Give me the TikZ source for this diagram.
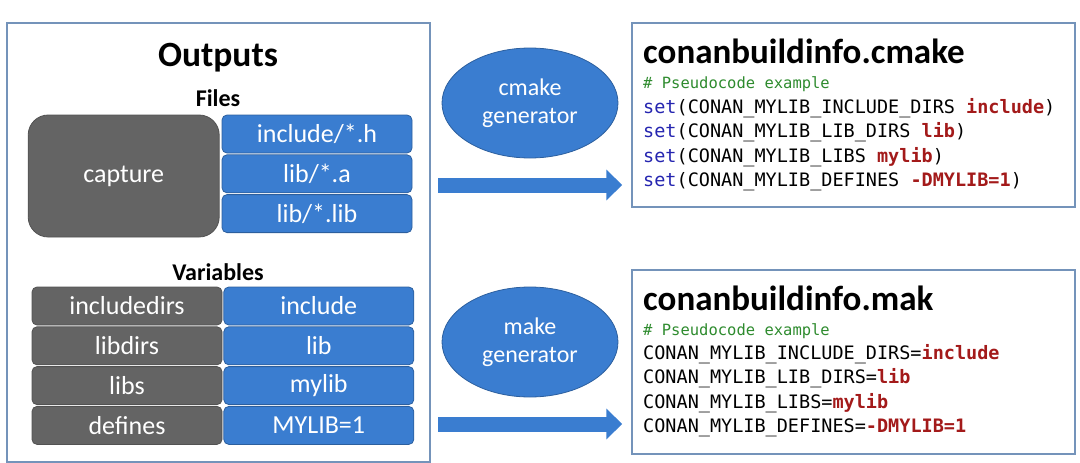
\documentclass[tikz,border=0pt]{standalone}
\usepackage{fontspec}
\setmainfont{Carlito}
\newfontfamily\codefont{DejaVu Sans Mono}
\usepackage{tikz}
\usetikzlibrary{positioning, arrows.meta, shapes.geometric, calc}
\definecolor{cellblue}{HTML}{3A7DD0}
\definecolor{celledge}{HTML}{2C5F9E}
\definecolor{cellgrey}{HTML}{646464}
\definecolor{greyedge}{HTML}{525252}
\definecolor{frameedge}{HTML}{7493BA}
\definecolor{kwblue}{HTML}{2525B0}
\definecolor{valred}{HTML}{A31A1A}
\definecolor{cmtgreen}{HTML}{2E8B2E}

\begin{document}
\begin{tikzpicture}[x=1pt,y=-1pt,node distance=1pt,
  cell/.style={draw,line width=0.8pt,rounded corners=5pt,minimum width=190pt,
               minimum height=38pt,inner sep=0pt,text=white,
               font=\fontsize{26}{28}\selectfont},
  filecell/.style={cell,fill=cellblue,draw=celledge},
  keycell/.style={cell,fill=cellgrey,draw=greyedge},
  gen/.style={ellipse,fill=cellblue,draw=celledge,line width=0.8pt,
              minimum width=176pt,minimum height=110pt,inner sep=0pt,
              text=white,align=center,font=\fontsize{24}{28}\selectfont},
  codebox/.style={draw=frameedge,line width=1.5pt,minimum width=443pt,
                  minimum height=184pt,inner sep=0pt},
  head/.style={inner sep=0pt,font=\fontsize{24}{28}\selectfont\bfseries},
  codetitle/.style={anchor=base west,inner sep=0pt,
                    font=\fontsize{35}{38}\selectfont\bfseries},
  codeln/.style={anchor=base west,inner sep=0pt,
                 font=\codefont\fontsize{18.5}{22}\selectfont},
  cmt/.style={codeln,text=cmtgreen,font=\codefont\fontsize{15.5}{18}\selectfont},
  bigarrow/.style={cellblue,line width=15pt,shorten >=9pt,
                   -{Triangle[length=16pt,width=30pt]}}]
  \useasboundingbox (0,0) rectangle (1080,463);

  % outputs panel
  \draw[frameedge,line width=1.5pt] (7,23) rectangle (430,462);
  \node[head,font=\fontsize{35.5}{38}\selectfont\bfseries] (outp) at (218,58) {Outputs};
  \node[head] (files) at (218,98) {Files};
  \node[filecell] (f1) at (317,134) {include/*.h};
  \node[filecell, below=of f1] (f2) {lib/*.a};
  \node[filecell, below=of f2] (f3) {lib/*.lib};
  \node[keycell, rounded corners=20pt, minimum width=191pt, minimum height=122pt,
        below left=0pt and 2pt of f1.north west] (cap) {capture};

  \node[head] (vars) at (218,272) {Variables};
  \node[keycell] (k1) at (127,306) {includedirs};
  \node[keycell, below=of k1] (k2) {libdirs};
  \node[keycell, below=of k2] (k3) {libs};
  \node[keycell, below=of k3] (k4) {defines};
  \node[filecell, right=1pt of k1] (v1) {include};
  \node[filecell, right=1pt of k2] (v2) {lib};
  \node[filecell, right=1pt of k3] (v3) {mylib};
  \node[filecell, right=1pt of k4] (v4) {MYLIB=1};

  % generators
  \node[gen] (cgen) at (530,103) {cmake\\generator};
  \node[gen] (mgen) at (530,342) {make\\generator};

  % cmake file
  \node[codebox] (cmk) at (853.5,115) {};
  \node[codetitle] (cmkt) at (643,63) {conanbuildinfo.cmake};
  \node[cmt, below=25pt of cmkt.base west, anchor=base west] (cmk0) {\# Pseudocode example};
  \node[codeln, below=25pt of cmk0.base west, anchor=base west] (cmk1)
    {{\color{kwblue}set}(CONAN\_MYLIB\_INCLUDE\_DIRS {\color{valred}\bfseries include})};
  \node[codeln, below=24.5pt of cmk1.base west, anchor=base west] (cmk2)
    {{\color{kwblue}set}(CONAN\_MYLIB\_LIB\_DIRS {\color{valred}\bfseries lib})};
  \node[codeln, below=24.5pt of cmk2.base west, anchor=base west] (cmk3)
    {{\color{kwblue}set}(CONAN\_MYLIB\_LIBS {\color{valred}\bfseries mylib})};
  \node[codeln, below=24.5pt of cmk3.base west, anchor=base west] (cmk4)
    {{\color{kwblue}set}(CONAN\_MYLIB\_DEFINES {\color{valred}\bfseries -DMYLIB=1})};

  % make file
  \node[codebox] (mk) at (853.5,362) {};
  \node[codetitle] (mkt) at (643,310) {conanbuildinfo.mak};
  \node[cmt, below=25pt of mkt.base west, anchor=base west] (mk0) {\# Pseudocode example};
  \node[codeln, below=24pt of mk0.base west, anchor=base west] (mk1)
    {CONAN\_MYLIB\_INCLUDE\_DIRS={\color{valred}\bfseries include}};
  \node[codeln, below=24.5pt of mk1.base west, anchor=base west] (mk2)
    {CONAN\_MYLIB\_LIB\_DIRS={\color{valred}\bfseries lib}};
  \node[codeln, below=24.5pt of mk2.base west, anchor=base west] (mk3)
    {CONAN\_MYLIB\_LIBS={\color{valred}\bfseries mylib}};
  \node[codeln, below=24.5pt of mk3.base west, anchor=base west] (mk4)
    {CONAN\_MYLIB\_DEFINES={\color{valred}\bfseries -DMYLIB=1}};

  % arrows
  \coordinate (ca) at (438,185);
  \coordinate (ma) at (438,424);
  \draw[bigarrow] (ca) -- (ca -| cmk.west);
  \draw[bigarrow] (ma) -- (ma -| mk.west);
\end{tikzpicture}
\end{document}
